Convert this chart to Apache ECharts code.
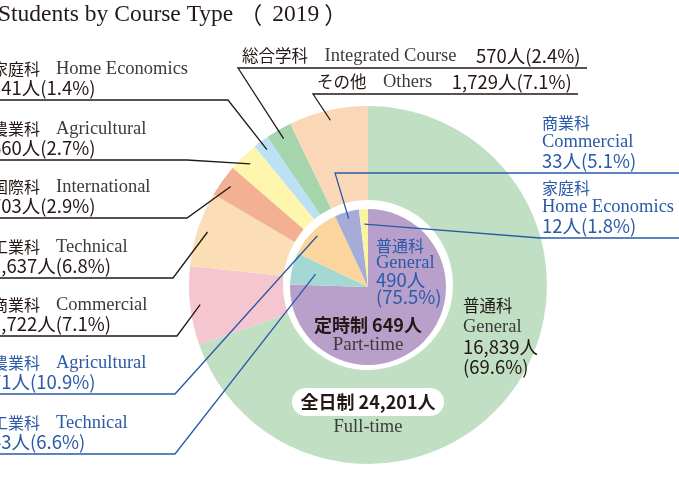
<!DOCTYPE html>
<html>
<head>
<meta charset="utf-8">
<script src="https://cdn.jsdelivr.net/npm/echarts@6/dist/echarts.min.js"></script>
<style>
  html, body { margin: 0; padding: 0; background: #fff; }
  #chart { width: 679px; height: 477px; }
</style>
</head>
<body>
<div id="chart"></div>
<script>
// 全日制 (full-time), clockwise from 12 o'clock
const fullNames = ['普通科', '商業科', '工業科', '国際科', '農業科', '家庭科', '総合学科', 'その他'];
const fullNamesEn = ['General', 'Commercial', 'Technical', 'International', 'Agricultural', 'Home Economics', 'Integrated Course', 'Others'];
const fullValues = [16839, 1722, 1637, 703, 660, 341, 570, 1729];
const fullPct = [69.6, 7.1, 6.8, 2.9, 2.7, 1.4, 2.4, 7.1];
const fullColors = ['#c0dfc3', '#f5c6cf', '#fcdeb6', '#f3b092', '#fdf6ac', '#bce0f4', '#a6d4ac', '#f9d7b7'];

// 定時制 (part-time)
const partNames = ['普通科', '工業科', '農業科', '商業科', '家庭科'];
const partNamesEn = ['General', 'Technical', 'Agricultural', 'Commercial', 'Home Economics'];
const partValues = [490, 43, 71, 33, 12];
const partPct = [75.5, 6.6, 10.9, 5.1, 1.8];
const partColors = ['#b9a0cb', '#a4d8d2', '#fbd49e', '#a5acd8', '#faf3a0'];

const titleText = 'Students by Course Type';
const titleYear = '2019';

const sans = '"Noto Sans CJK JP", sans-serif';
const serif = '"Liberation Serif", "Noto Sans CJK JP", serif';
const black = '#231815';
const gray = '#3b3b3b';
const blue = '#2a5aa8';

const jpFont = '16px ' + sans;
const enFont = '18.5px ' + serif;
const numFont = '18.5px ' + sans;

const outerCenter = [368, 285];
const innerCenter = [368, 287];

const sum = arr => arr.reduce((a, b) => a + b, 0);
const fmt = n => n.toLocaleString('en-US');
const pctText = p => '(' + p.toFixed(1) + '%)';

// point in the middle of slice i, at radius r
const anchor = (values, i, center, r) => {
    const total = sum(values);
    let cum = 0;
    for (let k = 0; k < i; k++) cum += values[k];
    const a = (cum + values[i] / 2) / total * Math.PI * 2;
    return [center[0] + r * Math.sin(a), center[1] - r * Math.cos(a)];
};

const graphics = [];
const text = (x, y, str, style) => graphics.push({
    type: 'text', x: x, y: y, silent: true, z: 100,
    style: Object.assign({ text: str, align: 'left', verticalAlign: 'middle' }, style)
});
const line = (pts, color) => graphics.push({
    type: 'polyline', silent: true, z: 90,
    shape: { points: pts },
    style: { stroke: color, lineWidth: 1.3, fill: 'none' }
});

text(-2, 15, '{t|' + titleText + '}{p|（}{t|' + titleYear + '}{q|）}', {
    rich: {
        t: { font: '23.5px ' + serif, fill: black },
        p: { font: '23px ' + sans, fill: black, padding: [0, 10, 0, 6] },
        q: { font: '23px ' + sans, fill: black, padding: [0, 0, 0, 5] }
    }
});

// left side labels
const leftLabels = [
    { part: false, i: 5, y: 100, end: 228, r: 169 },
    { part: false, i: 4, y: 160, end: 187, r: 169 },
    { part: false, i: 3, y: 218, end: 187, r: 169 },
    { part: false, i: 2, y: 278, end: 173, r: 169 },
    { part: false, i: 1, y: 336, end: 177, r: 169 },
    { part: true, i: 2, y: 394, end: 175, r: 72 },
    { part: true, i: 1, y: 454, end: 175, r: 54 }
];
leftLabels.forEach(l => {
    const names = l.part ? partNames : fullNames;
    const en = l.part ? partNamesEn : fullNamesEn;
    const vals = l.part ? partValues : fullValues;
    const pct = l.part ? partPct : fullPct;
    const c = l.part ? blue : black;
    text(-8, l.y - 31, '{a|' + names[l.i] + '　}{b|' + en[l.i] + '}', {
        rich: {
            a: { font: jpFont, fill: c },
            b: { font: enFont, fill: l.part ? blue : gray }
        }
    });
    text(-9, l.y - 12, fmt(vals[l.i]) + '人' + pctText(pct[l.i]), { font: numFont, fill: c });
    const p = l.part ? anchor(partValues, l.i, innerCenter, l.r) : anchor(fullValues, l.i, outerCenter, l.r);
    line([[-5, l.y], [l.end, l.y], p], c);
});

// top labels
const topLabels = [
    { i: 6, x: 242, y: 68, end: 587 },
    { i: 7, x: 317, y: 94, end: 578 }
];
topLabels.forEach(l => {
    text(l.x, l.y - 12, '{a|' + fullNames[l.i] + '　}{b|' + fullNamesEn[l.i] + '}{a|　}{n|' + fmt(fullValues[l.i]) + '人' + pctText(fullPct[l.i]) + '}', {
        rich: {
            a: { font: '16.5px ' + sans, fill: black },
            b: { font: enFont, fill: gray },
            n: { font: numFont, fill: black, padding: [0, 0, 0, 3] }
        }
    });
    line([[l.end, l.y], [l.x - 4, l.y], anchor(fullValues, l.i, outerCenter, 169)], black);
});

// right labels (part-time)
const rightLabels = [
    { i: 3, y: 173, start: 335, r: 71 },
    { i: 4, y: 238, start: 540, r: 63 }
];
rightLabels.forEach(l => {
    text(542, l.y - 50, partNames[l.i], { font: jpFont, fill: blue });
    text(542, l.y - 31, partNamesEn[l.i], { font: enFont, fill: blue });
    text(542, l.y - 12, fmt(partValues[l.i]) + '人' + pctText(partPct[l.i]), { font: numFont, fill: blue });
    line([[690, l.y], [l.start, l.y], anchor(partValues, l.i, innerCenter, l.r)], blue);
});

// inner General label
text(376, 246, partNames[0], { font: jpFont, fill: blue });
text(376, 263, partNamesEn[0], { font: enFont, fill: blue });
text(376, 280, fmt(partValues[0]) + '人', { font: numFont, fill: blue });
text(376, 297, pctText(partPct[0]), { font: numFont, fill: blue });

// outer General label
text(463, 306, fullNames[0], { font: '16.5px ' + sans, fill: black });
text(463, 327, fullNamesEn[0], { font: enFont, fill: gray });
text(463, 347, fmt(fullValues[0]) + '人', { font: numFont, fill: black });
text(463, 367, pctText(fullPct[0]), { font: numFont, fill: black });

// totals
text(368, 325, '定時制 ' + fmt(sum(partValues)) + '人', { font: 'bold 18px ' + sans, fill: black, align: 'center' });
text(368, 345, 'Part-time', { font: '19px ' + serif, fill: gray, align: 'center' });
graphics.push({
    type: 'rect', silent: true, z: 95,
    shape: { x: 292, y: 388, width: 152, height: 28, r: 14 },
    style: { fill: '#fff' }
});
text(368, 402, '全日制 ' + fmt(sum(fullValues)) + '人', { font: 'bold 18px ' + sans, fill: black, align: 'center' });
text(368, 427, 'Full-time', { font: enFont, fill: gray, align: 'center' });

const chart = echarts.init(document.getElementById('chart'));
chart.setOption({
    animation: false,
    backgroundColor: '#fff',
    series: [
        {
            type: 'pie',
            center: outerCenter,
            radius: [85, 179],
            startAngle: 90,
            clockwise: true,
            silent: true,
            label: { show: false },
            labelLine: { show: false },
            data: fullValues.map((v, i) => ({ name: fullNamesEn[i], value: v, itemStyle: { color: fullColors[i] } }))
        },
        {
            type: 'pie',
            center: innerCenter,
            radius: [0, 78],
            startAngle: 90,
            clockwise: true,
            silent: true,
            label: { show: false },
            labelLine: { show: false },
            data: partValues.map((v, i) => ({ name: partNamesEn[i], value: v, itemStyle: { color: partColors[i] } }))
        }
    ],
    graphic: graphics
});
</script>
</body>
</html>
